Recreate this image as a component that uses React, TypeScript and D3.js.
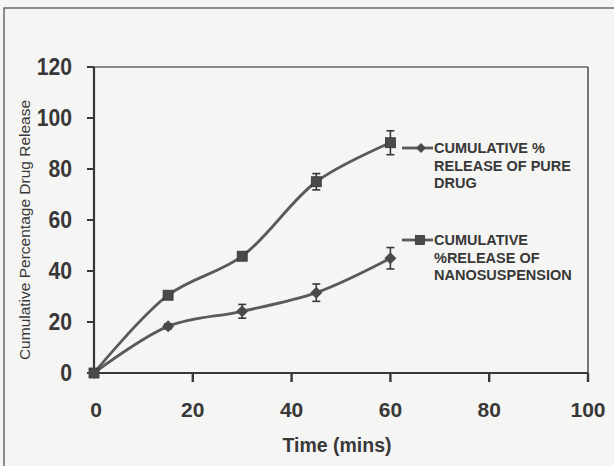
import React from "react";
import * as d3 from "d3";

const times = [0, 15, 30, 45, 60];
const pureDrug = [0, 18.3, 24.2, 31.5, 45];
const pureDrugErr = [0, 1, 2.7, 3.4, 4.2];
const nano = [0, 30.5, 45.8, 75, 90.3];
const nanoErr = [0, 0.8, 1, 3.2, 4.7];
const xTicks = [0, 20, 40, 60, 80, 100];
const yTicks = [0, 20, 40, 60, 80, 100, 120];
const legendPure = ["CUMULATIVE %", "RELEASE OF PURE", "DRUG"];
const legendNano = ["CUMULATIVE", "%RELEASE OF", "NANOSUSPENSION"];

const W = 614;
const H = 466;
const ink = "#383838";
const lineCol = "#5a5a5a";

export default function App() {
  const x = d3.scaleLinear().domain([0, 100]).range([94, 588]);
  const y = d3.scaleLinear().domain([0, 120]).range([373, 67]);
  const line = d3
    .line<number>()
    .x((_, i) => x(times[i]))
    .y((d) => y(d))
    .curve(d3.curveCatmullRom.alpha(0.5));

  const errBars = (vals: number[], errs: number[], key: string) =>
    vals.map((v, i) =>
      errs[i] > 0 ? (
        <g key={key + i} stroke={ink} strokeWidth={1.6}>
          <line x1={x(times[i])} x2={x(times[i])} y1={y(v - errs[i])} y2={y(v + errs[i])} />
          <line x1={x(times[i]) - 4} x2={x(times[i]) + 4} y1={y(v - errs[i])} y2={y(v - errs[i])} />
          <line x1={x(times[i]) - 4} x2={x(times[i]) + 4} y1={y(v + errs[i])} y2={y(v + errs[i])} />
        </g>
      ) : null
    );

  const diamond = (cx: number, cy: number, r: number, key: string) => (
    <path
      key={key}
      d={`M${cx},${cy - r}L${cx + r},${cy}L${cx},${cy + r}L${cx - r},${cy}Z`}
      fill="#4a4a4a"
    />
  );
  const square = (cx: number, cy: number, s: number, key: string) => (
    <rect key={key} x={cx - s / 2} y={cy - s / 2} width={s} height={s} fill="#4a4a4a" stroke="#333" strokeWidth={0.8} />
  );

  const legY1 = 148;
  const legY2 = 240;
  const legLh = 17.5;

  return (
    <svg
      width={W}
      height={H}
      style={{ position: "absolute", left: 0, top: 0, background: "#f5f5f4" }}
      fontFamily="'Liberation Sans', Arial, sans-serif"
    >
      <rect x={0} y={0} width={W} height={H} fill="#f5f5f4" />
      {/* outer frame */}
      <rect x={4} y={8} width={W + 10} height={H + 10} fill="none" stroke="#555" strokeWidth={1.3} />
      {/* plot box */}
      <line x1={x(0)} x2={x(100)} y1={y(120)} y2={y(120)} stroke="#666" strokeWidth={1.3} />
      <line x1={x(100)} x2={x(100)} y1={y(120)} y2={y(0)} stroke="#555" strokeWidth={1.6} />
      {/* axes */}
      <line x1={x(0)} x2={x(0)} y1={y(120)} y2={y(0)} stroke={ink} strokeWidth={2.2} />
      <line x1={x(0)} x2={x(100)} y1={y(0)} y2={y(0)} stroke={ink} strokeWidth={2.2} />
      {yTicks.map((t) => (
        <g key={"yt" + t}>
          <line x1={x(0) - 7} x2={x(0)} y1={y(t)} y2={y(t)} stroke={ink} strokeWidth={2} />
          <text
            transform={`translate(72,${y(t)}) scale(0.92,1)`}
            dy="0.36em"
            textAnchor="end"
            fontSize={23}
            fontWeight="bold"
            fill={ink}
          >
            {t}
          </text>
        </g>
      ))}
      {xTicks.map((t) => (
        <g key={"xt" + t}>
          {t > 0 && (
            <line x1={x(t)} x2={x(t)} y1={y(0)} y2={y(0) + 9} stroke={ink} strokeWidth={2.4} />
          )}
          <text
            x={x(t) + (t === 0 ? 2 : 0)}
            y={409}
            dy="0.36em"
            textAnchor="middle"
            fontSize={21}
            fontWeight="bold"
            fill={ink}
          >
            {t}
          </text>
        </g>
      ))}
      <text x={337} y={445} dy="0.36em" textAnchor="middle" fontSize={19.5} fontWeight="bold" fill={ink}>
        Time (mins)
      </text>
      <text
        transform={`translate(24,230) rotate(-90)`}
        dy="0.36em"
        textAnchor="middle"
        fontSize={15.5}
        fill={ink}
      >
        Cumulative Percentage Drug Release
      </text>

      {/* series */}
      <path d={line(nano) || ""} fill="none" stroke={lineCol} strokeWidth={2.8} />
      <path d={line(pureDrug) || ""} fill="none" stroke={lineCol} strokeWidth={2.8} />
      {errBars(nano, nanoErr, "ne")}
      {errBars(pureDrug, pureDrugErr, "pe")}
      {nano.map((v, i) => square(x(times[i]), y(v), 10, "ns" + i))}
      {pureDrug.map((v, i) => diamond(x(times[i]), y(v), 6, "pd" + i))}

      {/* legend */}
      <line x1={402} x2={433} y1={legY1} y2={legY1} stroke={lineCol} strokeWidth={2.8} />
      {diamond(421, legY1, 5, "ld")}
      {legendPure.map((s, i) => (
        <text key={"lp" + i} x={434} y={legY1 + i * legLh} dy="0.36em" fontSize={14.5} fontWeight="bold" fill={ink}>
          {s}
        </text>
      ))}
      <line x1={402} x2={433} y1={legY2} y2={legY2} stroke={lineCol} strokeWidth={2.8} />
      {square(420, legY2, 9, "ls")}
      {legendNano.map((s, i) => (
        <text key={"ln" + i} x={434} y={legY2 + i * legLh} dy="0.36em" fontSize={14.5} fontWeight="bold" fill={ink}>
          {s}
        </text>
      ))}
    </svg>
  );
}
